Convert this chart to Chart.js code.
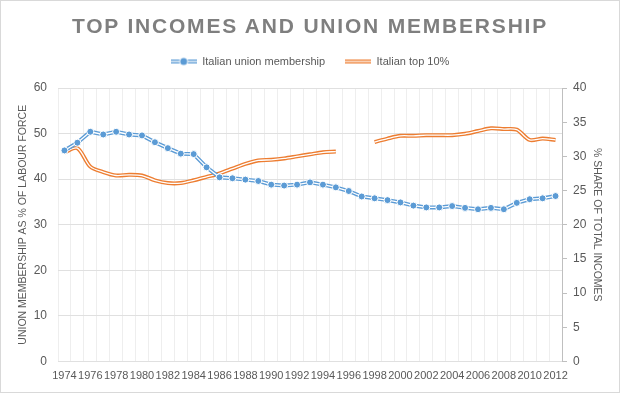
<!DOCTYPE html>
<html>
<head>
<meta charset="utf-8">
<script src="https://cdn.jsdelivr.net/npm/chart.js@4"></script>
<style>
  body { margin: 0; background: #fff; }
  #wrap { position: relative; width: 620px; height: 393px; }
  #titulo { position: absolute; top: 15px; left: 0; width: 620px; text-align: center;
            font: bold 21px 'Liberation Sans', sans-serif; letter-spacing: 1.8px; color: #7f7f7f; line-height: 1; }
  #borda { position: absolute; left: 0; top: 0; width: 620px; height: 393px; box-sizing: border-box;
           border: 1px solid #d9d9d9; pointer-events: none; }
</style>
</head>
<body>
<div id="wrap">
  <canvas id="grafico" width="620" height="393"></canvas>
  <div id="titulo">TOP INCOMES AND UNION MEMBERSHIP</div>
  <div id="borda"></div>
</div>
<script>
const anos = [];
for (let a = 1974; a <= 2012; a++) anos.push(String(a));

const sindicato = [46.3, 48.0, 50.4, 49.8, 50.4, 49.8, 49.6, 48.1, 46.8, 45.6, 45.5, 42.6,
  40.4, 40.2, 39.9, 39.6, 38.8, 38.6, 38.8, 39.3, 38.8, 38.2, 37.4, 36.2, 35.8, 35.4, 34.9,
  34.2, 33.8, 33.8, 34.1, 33.7, 33.4, 33.7, 33.4, 34.8, 35.6, 35.8, 36.3];

const top10 = [30.6, 31.2, 28.5, 27.7, 27.2, 27.3, 27.2, 26.5, 26.1, 26.1, 26.5, 27.0,
  27.5, 28.2, 28.9, 29.4, 29.5, 29.7, 30.0, 30.3, 30.6, 30.7, null, null,
  32.1, 32.6, 33.0, 33.0, 33.1, 33.1, 33.1, 33.3, 33.7, 34.1, 34.0, 33.9, 32.4, 32.6, 32.4];

const nomes = ['Italian union membership', 'Italian top 10%'];

const azul = '#5b9bd5';
const laranja = '#ed7d31';
const cinza = '#595959';
const fonte = "'Liberation Sans', sans-serif";

function icone(cor, comPonto) {
  const c = document.createElement('canvas');
  c.width = 26; c.height = 10;
  const ctx = c.getContext('2d');
  ctx.strokeStyle = cor; ctx.lineWidth = 4;
  ctx.beginPath(); ctx.moveTo(0, 5); ctx.lineTo(26, 5); ctx.stroke();
  ctx.strokeStyle = '#fff'; ctx.lineWidth = 1.3;
  ctx.beginPath(); ctx.moveTo(0, 5); ctx.lineTo(26, 5); ctx.stroke();
  if (comPonto) {
    ctx.fillStyle = '#fff';
    ctx.beginPath(); ctx.arc(13, 5, 4.5, 0, Math.PI * 2); ctx.fill();
    ctx.fillStyle = cor;
    ctx.beginPath(); ctx.arc(13, 5, 3.5, 0, Math.PI * 2); ctx.fill();
  }
  return c;
}

// espaço extra abaixo da legenda
const margemLegenda = {
  id: 'margemLegenda',
  beforeInit(chart) {
    const fitOriginal = chart.legend.fit;
    chart.legend.fit = function () {
      fitOriginal.bind(chart.legend)();
      this.height += 11;
    };
  }
};

new Chart(document.getElementById('grafico'), {
  type: 'line',
  data: {
    labels: anos,
    datasets: [
      { label: nomes[0], data: sindicato, yAxisID: 'y', showLine: false, pointRadius: 3.5,
        pointBackgroundColor: azul, pointBorderColor: '#fff', pointBorderWidth: 1, order: 0 },
      { data: sindicato, yAxisID: 'y', borderColor: '#fff', borderWidth: 1.3, pointRadius: 0, order: 1 },
      { data: sindicato, yAxisID: 'y', borderColor: azul, borderWidth: 4, pointRadius: 0, order: 2 },
      { label: nomes[1], data: top10, yAxisID: 'y2', borderColor: '#fff', borderWidth: 1.3,
        pointRadius: 0, tension: 0.3, order: 3 },
      { data: top10, yAxisID: 'y2', borderColor: laranja, borderWidth: 4,
        pointRadius: 0, tension: 0.3, order: 4 }
    ]
  },
  options: {
    responsive: false,
    animation: false,
    layout: { padding: { top: 36 } },
    plugins: {
      tooltip: { enabled: false },
      legend: {
        position: 'top',
        labels: {
          usePointStyle: true,
          pointStyleWidth: 26,
          padding: 20,
          color: cinza,
          font: { family: fonte, size: 11 },
          generateLabels: () => [
            { text: nomes[0], pointStyle: icone(azul, true), fontColor: cinza, lineWidth: 0, strokeStyle: 'transparent', datasetIndex: 0 },
            { text: nomes[1], pointStyle: icone(laranja, false), fontColor: cinza, lineWidth: 0, strokeStyle: 'transparent', datasetIndex: 3 }
          ]
        }
      }
    },
    scales: {
      x: {
        offset: true,
        grid: { offset: true, color: '#eeeeee', drawTicks: false },
        border: { display: false },
        ticks: {
          autoSkip: false, maxRotation: 0, minRotation: 0, padding: 8,
          color: cinza, font: { family: fonte, size: 11 },
          callback: function (v, i) { return i % 2 === 0 ? this.getLabelForValue(v) : ''; }
        },
        afterFit: s => { s.height = 31.5; }
      },
      y: {
        position: 'left', min: 0, max: 60,
        grid: { color: '#e0e0e0', drawTicks: false },
        border: { display: false },
        ticks: { stepSize: 10, padding: 11, color: cinza, font: { family: fonte, size: 12 } },
        title: { display: true, text: 'UNION MEMBERSHIP AS % OF LABOUR FORCE', color: cinza,
                 font: { family: fonte, size: 10.5 }, padding: { top: 17, bottom: 0 } },
        afterFit: s => { s.width = 58; }
      },
      y2: {
        position: 'right', min: 0, max: 40,
        grid: { drawOnChartArea: false, color: '#bfbfbf', tickLength: 5 },
        border: { display: true, color: '#bfbfbf' },
        ticks: { stepSize: 5, padding: 6, color: cinza, font: { family: fonte, size: 12 } },
        title: { display: true, text: '% SHARE OF TOTAL INCOMES', color: cinza,
                 font: { family: fonte, size: 10.5 }, padding: { top: 17, bottom: 0 } },
        afterFit: s => { s.width = 58; }
      }
    }
  },
  plugins: [margemLegenda]
});
</script>
</body>
</html>
